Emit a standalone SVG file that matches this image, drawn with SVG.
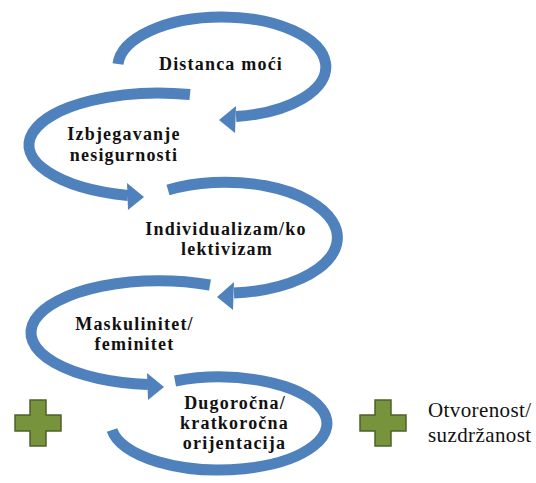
<svg xmlns="http://www.w3.org/2000/svg" width="536" height="483" viewBox="0 0 536 483">
<style>
.arc{fill:none;stroke:#4F81BD;stroke-width:11;stroke-linecap:butt}
.head{fill:#4F81BD}
.t{font-family:"Liberation Serif","Times New Roman",serif;font-weight:bold;font-size:18px;letter-spacing:1.2px;fill:#111;text-anchor:middle}
.r{font-family:"Liberation Serif","Times New Roman",serif;font-size:21px;letter-spacing:0.4px;fill:#111}
.plus{fill:#77933C;stroke:#4F6228;stroke-width:1.5}
</style>
<g id="connectors">
<path class="arc" d="M118,64 A104,50 0 1 1 236,116.5"/>
<polygon class="head" points="219,120 236,106 235,133"/>
<path class="arc" d="M190,94.5 A130,52 0 1 0 128,195.5"/>
<polygon class="head" points="144,197 127,183 128,210"/>
<path class="arc" d="M168,190 A112,55.5 0 1 1 234,293"/>
<polygon class="head" points="217,297 234,282 233,310"/>
<path class="arc" d="M210,285 A128,52 0 1 0 148,384.5"/>
<polygon class="head" points="164,387 147,373 148,400"/>
</g>
<g id="node1"><text class="t" x="221" y="70">Distanca moći</text></g>
<g id="node2"><text class="t" x="124" y="140">Izbjegavanje</text><text class="t" x="124" y="160.5">nesigurnosti</text></g>
<g id="node3"><text class="t" x="226" y="235">Individualizam/ko</text><text class="t" x="227" y="255">lektivizam</text></g>
<g id="node4"><text class="t" x="134.5" y="329.5">Maskulinitet/</text><text class="t" x="134.5" y="349.5">feminitet</text></g>
<g id="node5">
<path class="arc" d="M175,381 A108,46.5 0 1 1 112,430"/>
<text class="t" x="235" y="409">Dugoročna/</text><text class="t" x="234.5" y="429">kratkoročna</text><text class="t" x="234.5" y="449">orijentacija</text>
</g>
<g id="plus-left"><path class="plus" d="M30,400 h16 v15 h15 v16 h-15 v15 h-16 v-15 h-15 v-16 h15 z"/></g>
<g id="plus-right"><path class="plus" d="M375,400 h16 v15 h15 v16 h-15 v15 h-16 v-15 h-15 v-16 h15 z"/></g>
<g id="node6"><text class="r" x="428" y="417">Otvorenost/</text><text class="r" x="428" y="442">suzdržanost</text></g>
</svg>
